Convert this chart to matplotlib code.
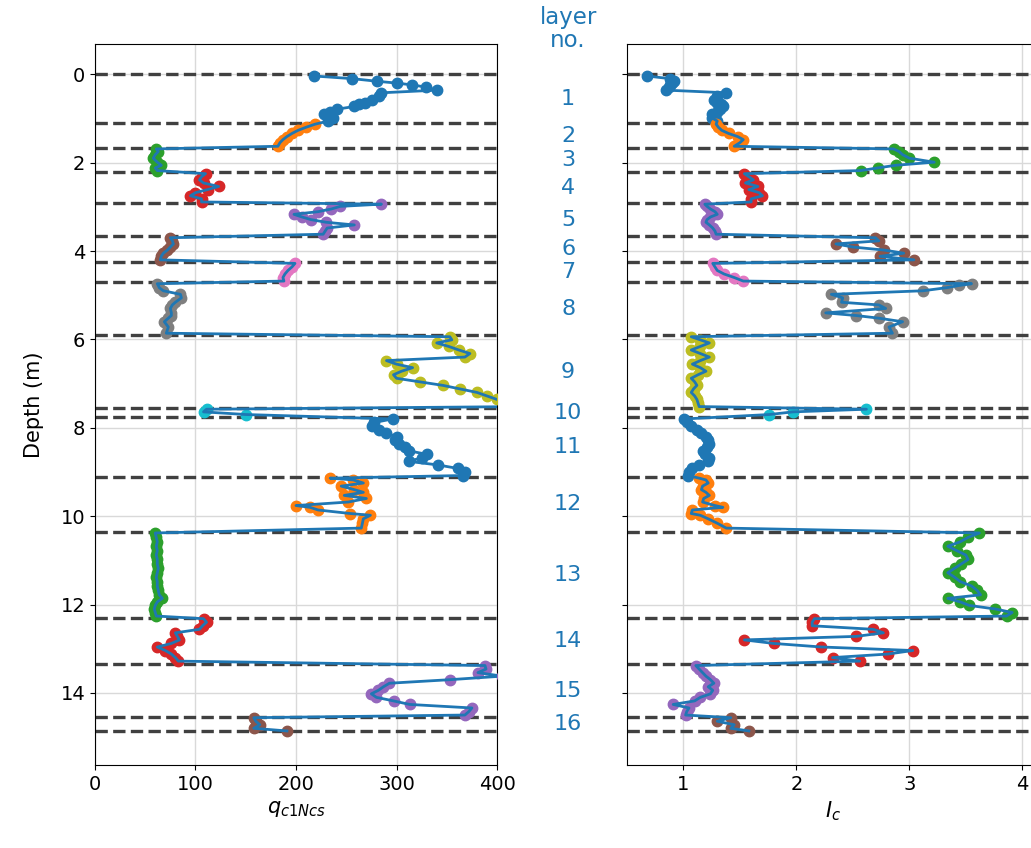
import matplotlib
matplotlib.use("Agg")
import matplotlib.pyplot as plt
from matplotlib.transforms import blended_transform_factory

# layer boundaries (m)
boundaries = [0.0, 1.11, 1.67, 2.22, 2.92, 3.66, 4.25, 4.71, 5.91,
              7.56, 7.76, 9.12, 10.35, 12.30, 13.35, 14.54, 14.87]

# per layer: depth (m), qc1Ncs, Ic
d1 = [0.04, 0.10, 0.16, 0.20, 0.24, 0.29, 0.36, 0.42, 0.50, 0.58, 0.64, 0.68, 0.73, 0.79, 0.85, 0.90, 0.98, 1.06]
q1 = [218, 256, 281, 300, 315, 329, 340, 285, 283, 276, 269, 263, 258, 241, 234, 228, 237, 232]
ic1 = [0.68, 0.88, 0.92, 0.90, 0.88, 0.87, 0.85, 1.38, 1.30, 1.27, 1.30, 1.33, 1.35, 1.32, 1.30, 1.25, 1.25, 1.30]

d2 = [1.13, 1.20, 1.27, 1.34, 1.41, 1.48, 1.55, 1.63]
q2 = [219, 210, 202, 196, 191, 187, 184, 182]
ic2 = [1.29, 1.31, 1.34, 1.40, 1.48, 1.53, 1.50, 1.45]

d3 = [1.69, 1.75, 1.82, 1.90, 1.99, 2.06, 2.12, 2.18]
q3 = [61, 63, 60, 58, 62, 66, 60, 62]
ic3 = [2.86, 2.91, 2.94, 3.00, 3.22, 2.88, 2.72, 2.57]

d4 = [2.25, 2.32, 2.39, 2.46, 2.54, 2.61, 2.68, 2.75, 2.82, 2.89]
q4 = [110, 106, 104, 108, 123, 112, 100, 95, 106, 106]
ic4 = [1.54, 1.58, 1.62, 1.55, 1.66, 1.58, 1.67, 1.70, 1.60, 1.60]

d5 = [2.94, 2.99, 3.05, 3.11, 3.17, 3.23, 3.29, 3.35, 3.41, 3.48, 3.55, 3.62]
q5 = [285, 244, 235, 222, 198, 206, 215, 230, 258, 231, 229, 227]
ic5 = [1.19, 1.21, 1.24, 1.28, 1.30, 1.24, 1.21, 1.20, 1.23, 1.26, 1.28, 1.29]

d6 = [3.70, 3.77, 3.84, 3.91, 3.98, 4.05, 4.12, 4.20]
q6 = [75, 77, 78, 75, 72, 68, 66, 65]
ic6 = [2.70, 2.73, 2.35, 2.50, 2.78, 2.95, 2.74, 3.04]

d7 = [4.28, 4.36, 4.44, 4.52, 4.60, 4.68]
q7 = [199, 196, 192, 189, 187, 188]
ic7 = [1.26, 1.28, 1.30, 1.36, 1.45, 1.53]

d8 = [4.74, 4.78, 4.83, 4.90, 4.98, 5.06, 5.16, 5.22, 5.30, 5.40, 5.46, 5.52, 5.60, 5.72, 5.86]
q8 = [62, 63, 64, 68, 85, 86, 80, 77, 75, 76, 76, 73, 69, 73, 71]
ic8 = [3.55, 3.44, 3.33, 3.12, 2.31, 2.41, 2.40, 2.73, 2.79, 2.26, 2.53, 2.73, 2.94, 2.82, 2.85]

d9 = [5.94, 6.01, 6.08, 6.16, 6.24, 6.32, 6.40, 6.48, 6.56, 6.64, 6.72,
      6.80, 6.88, 6.96, 7.04, 7.12, 7.20, 7.28, 7.36, 7.44, 7.52]
q9 = [353, 355, 340, 352, 362, 373, 368, 290, 300, 316, 305,
      297, 300, 323, 346, 363, 380, 390, 400, 415, 425]
ic9 = [1.07, 1.15, 1.23, 1.15, 1.07, 1.15, 1.23, 1.15, 1.08, 1.15, 1.20,
       1.13, 1.07, 1.10, 1.12, 1.09, 1.07, 1.10, 1.12, 1.13, 1.14]

d10 = [7.58, 7.64, 7.70]
q10 = [111, 108, 150]
ic10 = [2.62, 1.97, 1.76]

d11 = [7.80, 7.88, 7.96, 8.04, 8.12, 8.20, 8.28, 8.36, 8.44, 8.52, 8.60, 8.68, 8.76, 8.84, 8.92, 9.00, 9.08]
q11 = [296, 278, 276, 283, 290, 300, 298, 302, 308, 312, 330, 325, 312, 341, 361, 368, 366]
ic11 = [1.01, 1.03, 1.07, 1.12, 1.16, 1.20, 1.22, 1.23, 1.21, 1.17, 1.19, 1.23, 1.22, 1.14, 1.08, 1.05, 1.04]

d12 = [9.14, 9.18, 9.25, 9.32, 9.40, 9.46, 9.53, 9.60, 9.68, 9.76, 9.80, 9.86, 9.94, 9.98, 10.06, 10.16, 10.27]
q12 = [234, 257, 267, 245, 258, 267, 248, 270, 252, 200, 214, 222, 254, 274, 267, 266, 265]
ic12 = [1.14, 1.20, 1.22, 1.17, 1.16, 1.20, 1.23, 1.18, 1.17, 1.28, 1.35, 1.08, 1.07, 1.15, 1.22, 1.30, 1.38]

d13 = [10.38, 10.48, 10.58, 10.68, 10.78, 10.88, 10.98, 11.08, 11.18, 11.28, 11.38,
       11.48, 11.58, 11.68, 11.78, 11.86, 11.94, 12.02, 12.10, 12.18, 12.26]
q13 = [60, 61, 62, 61, 62, 61, 62, 62, 63, 62, 61, 62, 62, 63, 64, 67, 62, 60, 59, 60, 61]
ic13 = [3.62, 3.52, 3.45, 3.34, 3.42, 3.50, 3.52, 3.46, 3.40, 3.34, 3.40,
        3.45, 3.55, 3.60, 3.63, 3.34, 3.45, 3.53, 3.76, 3.91, 3.86]

d14 = [12.32, 12.40, 12.48, 12.56, 12.64, 12.72, 12.80, 12.88, 12.96, 13.04, 13.12, 13.20, 13.28]
q14 = [108, 111, 107, 104, 80, 82, 84, 76, 62, 70, 76, 80, 83]
ic14 = [2.16, 2.14, 2.14, 2.68, 2.77, 2.53, 1.54, 1.80, 2.22, 3.03, 2.81, 2.32, 2.56]

d15 = [13.38, 13.46, 13.54, 13.62, 13.70, 13.78, 13.86, 13.94, 14.02, 14.10, 14.18, 14.26, 14.34, 14.42, 14.50]
q15 = [388, 389, 381, 405, 353, 293, 287, 282, 275, 280, 297, 313, 375, 372, 368]
ic15 = [1.11, 1.14, 1.17, 1.20, 1.24, 1.27, 1.22, 1.26, 1.24, 1.15, 1.10, 0.91, 1.05, 1.03, 1.02]

d16 = [14.56, 14.64, 14.72, 14.80, 14.86]
q16 = [158, 160, 164, 158, 191]
ic16 = [1.42, 1.30, 1.45, 1.42, 1.58]

depths = [d1, d2, d3, d4, d5, d6, d7, d8, d9, d10, d11, d12, d13, d14, d15, d16]
qs = [q1, q2, q3, q4, q5, q6, q7, q8, q9, q10, q11, q12, q13, q14, q15, q16]
ics = [ic1, ic2, ic3, ic4, ic5, ic6, ic7, ic8, ic9, ic10, ic11, ic12, ic13, ic14, ic15, ic16]

fig = plt.figure(figsize=(10.31, 8.48), dpi=100)
ax1 = fig.add_axes([0.0921, 0.0979, 0.390, 0.850])
# right panel runs past the figure edge, like the cropped original
ax2 = fig.add_axes([0.608, 0.0979, 0.4006, 0.850])

all_d = [v for d in depths for v in d]
for ax, vals in ((ax1, qs), (ax2, ics)):
    for i, (d, v) in enumerate(zip(depths, vals)):
        ax.plot(v, d, 'o', color='C%d' % (i % 10), ms=7.5, zorder=3)
    ax.plot([x for v in vals for x in v], all_d, '-', color='C0', lw=2, zorder=4)
    for b in boundaries:
        ax.axhline(b, color='#404040', ls='--', lw=2.4, zorder=2)
    ax.grid(True, color='0.85', lw=1, zorder=0)
    ax.set_ylim(15.63, -0.68)
    ax.set_yticks(range(0, 15, 2))
    ax.tick_params(labelsize=14)

ax1.set_xlim(0, 400)
ax1.set_xticks([0, 100, 200, 300, 400])
ax1.set_xlabel('$q_{c1Ncs}$', fontsize=15)
ax1.set_ylabel('Depth (m)', fontsize=15, labelpad=12)
ax2.set_xlim(0.5, 4.155)
ax2.set_xticks([1, 2, 3, 4])
ax2.set_xlabel('$I_c$', fontsize=15)
ax2.tick_params(labelleft=False)

# layer numbers between the two panels
trans = blended_transform_factory(fig.transFigure, ax1.transData)
for i in range(len(boundaries) - 1):
    mid = 0.5 * (boundaries[i] + boundaries[i + 1])
    ax1.text(0.551, mid, str(i + 1), transform=trans, color='C0', fontsize=16,
             ha='center', va='center', clip_on=False)
fig.text(0.551, 0.966, 'layer\nno.', color='C0', fontsize=16.5,
         ha='center', va='center', linespacing=1.0)

fig.savefig('out.png', dpi=100)
